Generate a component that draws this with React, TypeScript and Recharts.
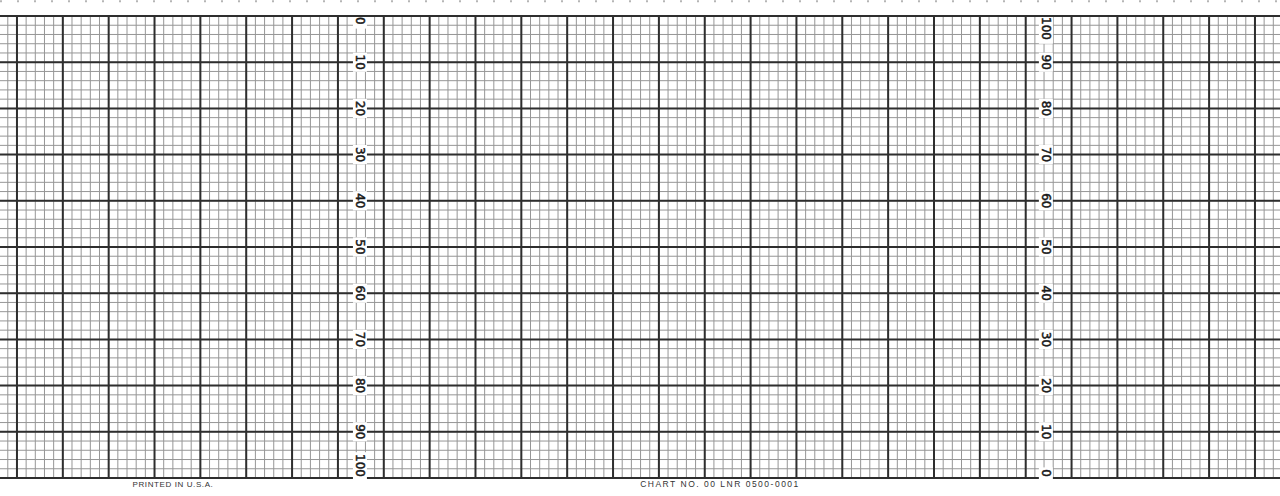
import { ComposedChart, XAxis, YAxis, CartesianGrid, Scatter, ReferenceLine } from "recharts";

// printed scales on the recorder paper
const leftScale = [0, 10, 20, 30, 40, 50, 60, 70, 80, 90, 100];
const rightScale = [100, 90, 80, 70, 60, 50, 40, 30, 20, 10, 0];
// where the scale columns sit, in minor (time) divisions
const leftColumn = 37.4;
const rightColumn = 112.2;
const footerNotes = ["PRINTED IN U.S.A.", "CHART NO. 00 LNR 0500-0001"];

// grid values: 5 minor divisions per major along time, 2-unit minors on the value scale
const minorX = Array.from({ length: 140 }, (_, i) => i - 1);
const majorX = minorX.filter((v) => v % 5 === 0);
const minorY = Array.from({ length: 51 }, (_, i) => i * 2);
const majorY = leftScale;

const leftPoints = leftScale.map((v) => ({ t: leftColumn, v }));
const rightPoints = rightScale.map((v) => ({ t: rightColumn, v }));

const inkColor = "#1a1a1a";
const minorColor = "#969696";
const majorColor = "#2e2e2e";
const labelFont = "DejaVu Sans, Verdana, sans-serif";
const footerFont = "Liberation Sans, Arial, sans-serif";

function ScaleLabel(props: any) {
  const { cx, cy, payload, topValue, bottomValue } = props;
  const text = String(payload.v);
  const len = text.length * 7.6;
  let anchor: "start" | "middle" | "end" = "middle";
  let y = cy;
  let rectY = cy - len / 2 - 2;
  if (payload.v === topValue) {
    anchor = "start";
    y = cy + 1;
    rectY = cy + 1;
  } else if (payload.v === bottomValue) {
    anchor = "end";
    y = cy - 1;
    rectY = cy - len - 3;
  }
  return (
    <g>
      <rect x={cx - 7} y={rectY} width={14} height={len + 4} fill="#fff" />
      <text
        x={cx}
        y={y}
        transform={`rotate(90, ${cx}, ${y})`}
        textAnchor={anchor}
        dominantBaseline="central"
        fontFamily={labelFont}
        fontSize={12}
        fill={inkColor}
        stroke={inkColor}
        strokeWidth={0.5}
      >
        {text}
      </text>
    </g>
  );
}

export default function App() {
  return (
    <div style={{ width: 1280, height: 496, background: "#fff" }}>
      <style>{`body{margin:0;background:#fff}`}</style>
      <ComposedChart width={1280} height={496} margin={{ top: 16, right: 0, bottom: 18, left: 0 }}>
        <XAxis type="number" dataKey="t" domain={[-1.85, 137.73]} ticks={minorX} interval={0} allowDataOverflow hide />
        <YAxis yAxisId="left" type="number" dataKey="v" domain={[0, 100]} ticks={minorY} interval={0} reversed hide />
        <YAxis yAxisId="right" type="number" dataKey="v" domain={[0, 100]} hide />
        <CartesianGrid yAxisId="left" verticalValues={minorX} horizontalValues={minorY} stroke={minorColor} strokeWidth={1} />
        <CartesianGrid yAxisId="left" verticalValues={majorX} horizontalValues={majorY} stroke={majorColor} strokeWidth={2} />
        <ReferenceLine
          yAxisId="left"
          y={-3.2}
          stroke="#b5b5b5"
          strokeWidth={2}
          strokeDasharray="2 15"
          ifOverflow="visible"
        />
        <Scatter
          yAxisId="left"
          data={leftPoints}
          dataKey="v"
          isAnimationActive={false}
          shape={(p: any) => <ScaleLabel {...p} topValue={0} bottomValue={100} />}
        />
        <Scatter
          yAxisId="right"
          data={rightPoints}
          dataKey="v"
          isAnimationActive={false}
          shape={(p: any) => <ScaleLabel {...p} topValue={100} bottomValue={0} />}
        />
        <text x={173} y={487} textAnchor="middle" fontFamily={footerFont} fontSize={8} letterSpacing={0.6} fill="#333">
          {footerNotes[0]}
        </text>
        <text x={720} y={487} textAnchor="middle" fontFamily={footerFont} fontSize={8.5} letterSpacing={1.5} fill="#333">
          {footerNotes[1]}
        </text>
      </ComposedChart>
    </div>
  );
}
